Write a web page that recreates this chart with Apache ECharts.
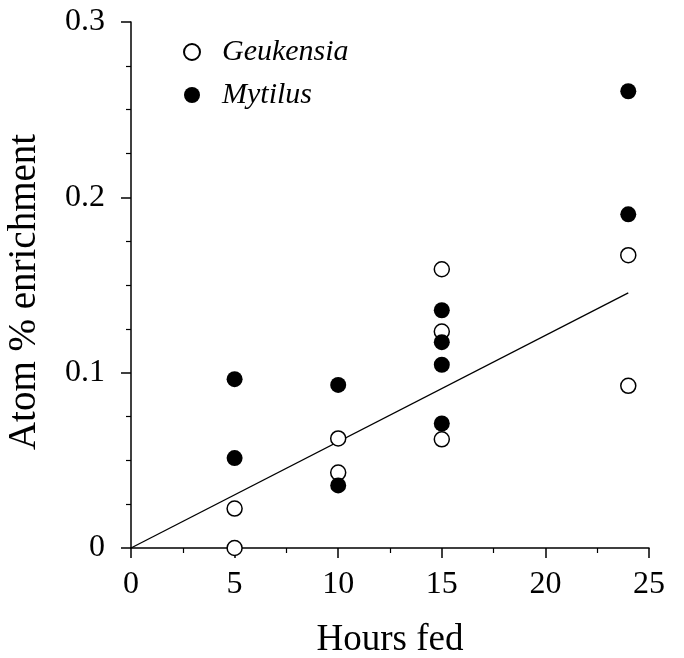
<!DOCTYPE html>
<html>
<head>
<meta charset="utf-8">
<script src="https://cdn.jsdelivr.net/npm/echarts@6/dist/echarts.min.js"></script>
<style>html,body{margin:0;padding:0;background:#fff;}#c{width:684px;height:658px;}</style>
</head>
<body>
<div id="c"></div>
<script>
const geukensiaX = [5, 5, 10, 10, 15, 15, 15, 24, 24];
const geukensiaY = [0.0, 0.0225, 0.0625, 0.043, 0.159, 0.1235, 0.062, 0.167, 0.0925];
const mytilusX = [5, 5, 10, 10, 15, 15, 15, 15, 24, 24];
const mytilusY = [0.0963, 0.0513, 0.093, 0.0357, 0.1356, 0.1174, 0.1045, 0.071, 0.2605, 0.1903];
const fitX = [0, 24];
const fitY = [0, 0.1455];
const xTicks = [0, 5, 10, 15, 20, 25];
const yTicks = [0, 0.1, 0.2, 0.3];

const zip = (xs, ys) => xs.map((x, i) => [x, ys[i]]);
const serif = 'Liberation Serif';

const chart = echarts.init(document.getElementById('c'));
chart.setOption({
  backgroundColor: '#fff',
  animation: false,
  grid: { left: 131, right: 35, top: 22, bottom: 110, containLabel: false, outerBoundsMode: 'none' },
  legend: {
    orient: 'vertical',
    left: 178,
    top: 32,
    itemGap: 13,
    itemWidth: 16,
    itemHeight: 16,
    data: ['Geukensia', 'Mytilus'],
    textStyle: { fontFamily: serif, fontStyle: 'italic', fontSize: 30, color: '#000', padding: [0, 0, 0, 17] }
  },
  xAxis: {
    type: 'value',
    min: xTicks[0], max: xTicks[xTicks.length - 1], interval: 5,
    name: 'Hours fed', nameLocation: 'middle', nameGap: 74,
    nameTextStyle: { fontFamily: serif, fontSize: 37, color: '#000' },
    axisLine: { onZero: false, lineStyle: { color: '#000', width: 1.5 } },
    axisTick: { show: true, inside: false, length: 10, lineStyle: { color: '#000', width: 1.5 } },
    minorTick: { show: true, splitNumber: 2, length: 5, lineStyle: { color: '#000', width: 1.2 } },
    axisLabel: { fontFamily: serif, fontSize: 32, color: '#000', margin: 21 },
    splitLine: { show: false }
  },
  yAxis: {
    type: 'value',
    min: yTicks[0], max: yTicks[yTicks.length - 1], interval: 0.1,
    name: 'Atom % enrichment', nameLocation: 'middle', nameGap: 87, nameRotate: 90,
    nameTextStyle: { fontFamily: serif, fontSize: 39, color: '#000', padding: [0, 14, 0, 0] },
    axisLine: { onZero: false, lineStyle: { color: '#000', width: 1.5 } },
    axisTick: { show: true, inside: false, length: 10, lineStyle: { color: '#000', width: 1.5 } },
    minorTick: { show: true, splitNumber: 4, length: 5, lineStyle: { color: '#000', width: 1.2 } },
    axisLabel: { fontFamily: serif, fontSize: 32, color: '#000', margin: 26,
      formatter: v => (v === 0 ? '0' : v.toFixed(1)) },
    splitLine: { show: false }
  },
  series: [
    {
      name: 'fit', type: 'line', data: zip(fitX, fitY), symbol: 'none',
      lineStyle: { color: '#000', width: 1.3 }, z: 1, silent: true
    },
    {
      name: 'Geukensia', type: 'scatter', data: zip(geukensiaX, geukensiaY),
      symbol: 'circle', symbolSize: 15,
      itemStyle: { color: '#fff', borderColor: '#000', borderWidth: 1.5, opacity: 1 }, z: 3
    },
    {
      name: 'Mytilus', type: 'scatter', data: zip(mytilusX, mytilusY),
      symbol: 'circle', symbolSize: 16,
      itemStyle: { color: '#000', borderColor: '#000', borderWidth: 0, opacity: 1 }, z: 4
    }
  ]
});
</script>
</body>
</html>
